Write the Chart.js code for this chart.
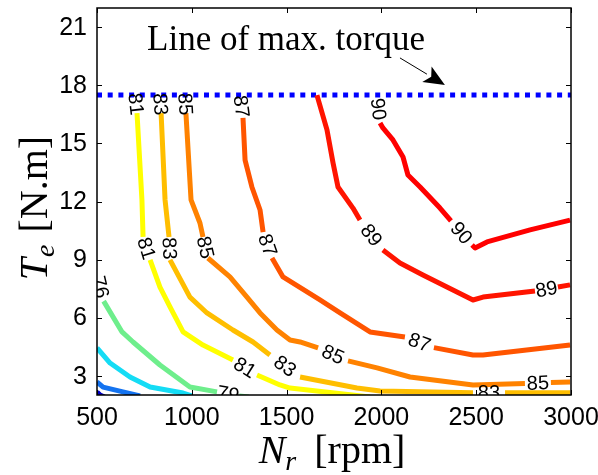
<!DOCTYPE html>
<html><head><meta charset="utf-8">
<script src="https://cdn.jsdelivr.net/npm/chart.js@4.4.1/dist/chart.umd.min.js"></script>
<style>html,body{margin:0;padding:0;background:#fff;}#wrap{width:598px;height:475px;}</style>
</head><body><div id="wrap"><canvas id="c" width="598" height="475"></canvas></div>
<script>
// ---------- data ----------
const xTicks = [500, 1000, 1500, 2000, 2500, 3000];
const yTicks = [3, 6, 9, 12, 15, 18, 21];
const xRange = [500, 3000];
const yRange = [2, 22];
const maxTorque = 17.5;
const maxTorqueText = 'Line of max. torque';
const noteTextAt = [764, 19.83];
const noteArrowFrom = [2098, 19.42];
const noteArrowTo = [2335, 18.02];

// contour lines: [speed rpm, torque N.m]; a string = efficiency label placed in the gap
const cDarkBlue = [[500, 2.16], [516, 2.0], [540, 1.9]];
const cBlue = [[500, 2.67], [532, 2.41], [637, 2.16], [727, 1.95]];
const cCyan = [[500, 4.43], [569, 3.65], [674, 2.93], [780, 2.41], [954, 2.10], [1000, 1.95]];
const c76 = [[500, 8.3], '76', [535, 6.85], [632, 5.26], [690, 4.74], [832, 3.55], [990, 2.41], [1133, 2.16], '79', [1250, 1.95], [1300, 1.9]];
const c81 = [[700, 17.5], '81', [711, 16.57], [737, 12.08], [743, 10.17], '81', [780, 8.98], [832, 7.58], [885, 6.55], [954, 5.26], [1059, 4.58], [1217, 3.81], '81', [1344, 3.03], [1465, 2.52], [1518, 2.36], [1940, 1.9]];
const c83 = [[832, 17.5], '83', [838, 16.57], [859, 12.08], [880, 10.17], '83', [885, 8.98], [990, 7.06], [1080, 6.24], [1217, 5.36], [1323, 4.74], [1412, 4.07], '83', [1571, 2.93], [1871, 2.36], [1993, 2.21], [2483, 2.12], '83', [2652, 2.12], [2995, 2.12]];
const c85 = [[964, 17.5], '85', [969, 16.57], [996, 12.08], [1043, 10.89], [1059, 10.17], '85', [1085, 9.08], [1201, 8.10], [1291, 7.06], [1360, 6.24], [1449, 5.36], [1518, 4.84], [1571, 4.74], [1666, 4.43], '85', [1824, 3.76], [1977, 3.40], [2151, 2.93], [2483, 2.52], [2757, 2.59], '85', [2894, 2.65], [2995, 2.67]];
const c87 = [[1254, 17.5], '87', [1270, 16.32], [1281, 14.14], [1317, 12.75], [1360, 11.56], [1376, 10.42], '87', [1423, 9.08], [1481, 8.10], [1676, 6.91], [1782, 6.24], [1940, 5.26], [2124, 5.0], '87', [2277, 4.45], [2483, 4.07], [2536, 4.07], [2995, 4.58]];
const c89 = [[1660, 17.5], [1713, 15.70], [1745, 13.99], [1771, 12.75], [1850, 11.66], [1887, 11.04], '89', [2008, 9.49], [2098, 8.82], [2219, 8.20], [2483, 6.91], [2536, 7.06], [2810, 7.37], '89', [2931, 7.58], [2995, 7.69]];
const c90 = [[1977, 17.5], '90', [1993, 16.06], [2008, 15.80], [2061, 15.18], [2114, 14.30], [2140, 13.37], [2204, 12.75], [2309, 11.66], [2367, 11.0], '90', [2478, 9.75], [2494, 9.60], [2557, 9.91], [2784, 10.53], [2995, 11.04]];

// ---------- styling ----------
const contours = [
  { d: cDarkBlue, color: '#0000C8' },
  { d: cBlue, color: '#1473F0' },
  { d: cCyan, color: '#14DCF5' },
  { d: c76, color: '#6EEE8C' },
  { d: c81, color: '#FFFF00' },
  { d: c83, color: '#FFBE00' },
  { d: c85, color: '#FF8200' },
  { d: c87, color: '#FF5500' },
  { d: c89, color: '#FF1400' },
  { d: c90, color: '#FF0000' }
];

function toPoints(arr) {
  const out = [];
  let lastX = arr[0][0];
  for (const p of arr) {
    if (typeof p === 'string') out.push({ x: lastX, y: null, lbl: p });
    else { out.push({ x: p[0], y: p[1] }); lastX = p[0]; }
  }
  return out;
}

const datasets = contours.map(c => ({
  data: toPoints(c.d), borderColor: c.color, borderWidth: 5, pointRadius: 0,
  tension: 0, spanGaps: false, clip: 0, borderJoinStyle: 'round', borderCapStyle: 'butt', fill: false
}));
datasets.push({
  data: [{ x: xRange[0], y: maxTorque }, { x: xRange[1], y: maxTorque }],
  borderColor: '#0000FF', borderWidth: 5, borderDash: [5, 5.7], pointRadius: 0, clip: 0, borderCapStyle: 'butt', fill: false
});

const SERIF = '"Liberation Serif", "Times New Roman", serif';
const SANS = '"Liberation Sans", Arial, sans-serif';

const labelPlugin = {
  id: 'contourLabels',
  afterDatasetsDraw(chart) {
    const ctx = chart.ctx, a = chart.chartArea;
    ctx.save();
    ctx.beginPath(); ctx.rect(a.left, a.top, a.right - a.left, a.bottom - a.top); ctx.clip();
    ctx.font = '20px ' + SANS; ctx.fillStyle = '#000'; ctx.textAlign = 'center'; ctx.textBaseline = 'middle';
    chart.data.datasets.forEach((ds, di) => {
      const meta = chart.getDatasetMeta(di);
      ds.data.forEach((p, i) => {
        if (!p.lbl) return;
        const p0 = meta.data[i - 1], p1 = meta.data[i + 1];
        let ang = Math.atan2(p1.y - p0.y, p1.x - p0.x);
        if (ang > Math.PI / 2) ang -= Math.PI;
        if (ang <= -Math.PI / 2) ang += Math.PI;
        ctx.save();
        ctx.translate((p0.x + p1.x) / 2, (p0.y + p1.y) / 2);
        ctx.rotate(ang);
        ctx.fillText(p.lbl, 0, 1);
        ctx.restore();
      });
    });
    ctx.restore();
  }
};

function drawRich(ctx, parts, cx, by) {
  let w = 0;
  parts.forEach(p => { ctx.font = p.font; p.w = ctx.measureText(p.t).width; w += p.w + (p.gap || 0); });
  let x = cx - w / 2;
  ctx.textAlign = 'left'; ctx.textBaseline = 'alphabetic';
  parts.forEach(p => { ctx.font = p.font; ctx.fillText(p.t, x, by + (p.dy || 0)); x += p.w + (p.gap || 0); });
}

const framePlugin = {
  id: 'frame',
  afterDraw(chart) {
    const ctx = chart.ctx, a = chart.chartArea, xs = chart.scales.x, ys = chart.scales.y;
    ctx.save();
    ctx.strokeStyle = '#000'; ctx.lineWidth = 1.5;
    ctx.strokeRect(a.left, a.top, a.right - a.left, a.bottom - a.top);
    ctx.lineWidth = 1;
    const tl = 5;
    ctx.beginPath();
    xTicks.forEach(v => {
      const px = Math.round(xs.getPixelForValue(v)) + 0.5;
      ctx.moveTo(px, a.bottom); ctx.lineTo(px, a.bottom - tl);
      ctx.moveTo(px, a.top); ctx.lineTo(px, a.top + tl);
    });
    yTicks.forEach(v => {
      const py = Math.round(ys.getPixelForValue(v)) + 0.5;
      ctx.moveTo(a.left, py); ctx.lineTo(a.left + tl, py);
      ctx.moveTo(a.right, py); ctx.lineTo(a.right - tl, py);
    });
    ctx.stroke();

    // tick labels
    ctx.fillStyle = '#000';
    ctx.font = '25px ' + SANS; ctx.textBaseline = 'middle';
    ctx.textAlign = 'center';
    xTicks.forEach(v => ctx.fillText(String(v), xs.getPixelForValue(v), a.bottom + 23));
    ctx.textAlign = 'right';
    yTicks.forEach(v => ctx.fillText(String(v), a.left - 10, ys.getPixelForValue(v) + 1));

    // annotation text + arrow
    ctx.font = '35px ' + SERIF; ctx.textAlign = 'left'; ctx.textBaseline = 'alphabetic';
    ctx.fillText(maxTorqueText, xs.getPixelForValue(noteTextAt[0]), ys.getPixelForValue(noteTextAt[1]));
    const x0 = xs.getPixelForValue(noteArrowFrom[0]), y0 = ys.getPixelForValue(noteArrowFrom[1]);
    const x1 = xs.getPixelForValue(noteArrowTo[0]), y1 = ys.getPixelForValue(noteArrowTo[1]);
    const ang = Math.atan2(y1 - y0, x1 - x0), hl = 21, hw = 9;
    const bx = x1 - hl * Math.cos(ang), by = y1 - hl * Math.sin(ang);
    ctx.beginPath(); ctx.moveTo(x0, y0); ctx.lineTo(bx, by); ctx.lineWidth = 1; ctx.stroke();
    ctx.beginPath();
    ctx.moveTo(x1, y1);
    ctx.lineTo(bx + hw * Math.sin(ang), by - hw * Math.cos(ang));
    ctx.lineTo(bx + 5 * Math.cos(ang), by + 5 * Math.sin(ang));
    ctx.lineTo(bx - hw * Math.sin(ang), by + hw * Math.cos(ang));
    ctx.closePath(); ctx.fill();

    // axis titles
    const big = '40px ' + SERIF, bigI = 'italic 40px ' + SERIF, smallI = 'italic 28px ' + SERIF;
    drawRich(ctx, [
      { t: 'N', font: bigI, gap: 0 },
      { t: 'r', font: smallI, dy: 7, gap: 18 },
      { t: '[rpm]', font: big }
    ], 332, 463);
    ctx.save();
    ctx.translate(47, 208); ctx.rotate(-Math.PI / 2);
    drawRich(ctx, [
      { t: 'T', font: bigI, gap: 1 },
      { t: 'e', font: smallI, dy: 7, gap: 12 },
      { t: '[N.m]', font: big }
    ], 0, 0);
    ctx.restore();
    ctx.restore();
  }
};

new Chart(document.getElementById('c'), {
  type: 'line',
  data: { datasets },
  options: {
    responsive: false, animation: false, devicePixelRatio: 1,
    layout: { padding: { top: 8, right: 27, left: 0, bottom: 0 } },
    plugins: { legend: { display: false }, tooltip: { enabled: false } },
    scales: {
      x: {
        type: 'linear', min: xRange[0], max: xRange[1],
        grid: { display: false, drawTicks: false }, border: { display: false },
        ticks: { display: false },
        afterBuildTicks(s) { s.ticks = xTicks.map(v => ({ value: v })); },
        afterFit(s) { s.height = 80; }
      },
      y: {
        type: 'linear', min: yRange[0], max: yRange[1],
        grid: { display: false, drawTicks: false }, border: { display: false },
        ticks: { display: false },
        afterBuildTicks(s) { s.ticks = yTicks.map(v => ({ value: v })); },
        afterFit(s) { s.width = 97; }
      }
    }
  },
  plugins: [labelPlugin, framePlugin]
});
</script></body></html>
